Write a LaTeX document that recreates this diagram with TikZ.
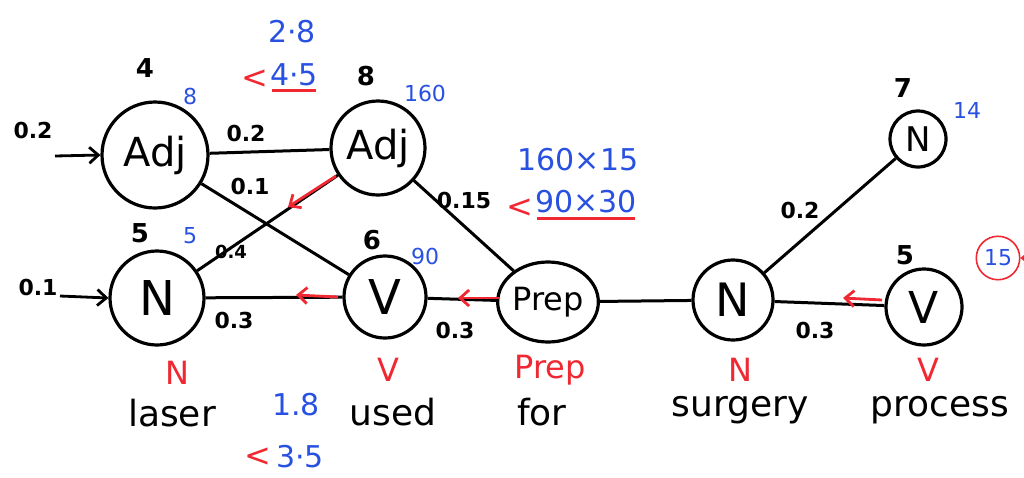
\documentclass[tikz,border=0pt]{standalone}
\usepackage{fontspec}
\setmainfont{DejaVu Sans}
\usetikzlibrary{arrows.meta,shapes.geometric}
\definecolor{hblue}{RGB}{40,80,225}
\definecolor{hred}{RGB}{240,40,50}
\tikzset{
  state/.style={draw, circle, line width=3.2pt, inner sep=0pt, font=\fontsize{40}{40}\selectfont},
  edge/.style={line width=3pt},
  lbl/.style={font=\fontsize{22}{22}\selectfont\bfseries, inner sep=1pt},
  cnt/.style={font=\fontsize{26}{26}\selectfont\bfseries, inner sep=1pt},
  bnum/.style={text=hblue, font=\fontsize{22}{22}\selectfont, inner sep=1pt},
  bnumL/.style={text=hblue, font=\fontsize{30}{30}\selectfont, inner sep=1pt},
  rtag/.style={text=hred, font=\fontsize{32}{32}\selectfont, inner sep=1pt},
  word/.style={font=\fontsize{36}{36}\selectfont, inner sep=1pt},
  rarr/.style={draw=hred, line width=2.8pt, -{Straight Barb[length=9pt,width=16pt]}},
  inarr/.style={line width=2.8pt, -{Straight Barb[length=9pt,width=16pt]}}
}
\begin{document}
\begin{tikzpicture}[x=1pt,y=-1pt]
\useasboundingbox (0,0) rectangle (1024,477);
% states
\node[state, minimum size=106pt] (adj1) at (155,155) {Adj};
\node[state, minimum size=94pt] (adj2) at (378,148) {Adj};
\node[state, minimum size=94pt, font=\fontsize{48}{48}\selectfont] (n1) at (157,298) {N};
\node[state, minimum size=82pt, font=\fontsize{48}{48}\selectfont] (v1) at (385,297) {V};
\node[state, ellipse, minimum width=100pt, minimum height=80pt, font=\fontsize{32}{32}\selectfont] (prep) at (548,302) {Prep};
\node[state, minimum size=80pt, font=\fontsize{46}{46}\selectfont] (n2) at (733,300) {N};
\node[state, minimum size=56pt, font=\fontsize{34}{34}\selectfont] (n3) at (918,139) {N};
\node[state, minimum size=76pt, font=\fontsize{44}{44}\selectfont] (v2) at (924,307) {V};
% incoming arrows
\coordinate (in1) at (55,156);
\coordinate (in2) at (60,296);
\draw[inarr] (in1) -- (adj1.west);
\draw[inarr] (in2) -- (n1.west);
\node[lbl] (l02a) at (33,130) {0.2};
\node[lbl] (l01a) at (38,287) {0.1};
% edges
\draw[edge] (adj1) -- (adj2);
\draw[edge] (adj1) -- (v1);
\draw[edge] (adj2) -- (n1);
\draw[edge] (adj2) -- (prep);
\draw[edge] (n1) -- (v1);
\draw[edge] (v1) -- (prep);
\draw[edge] (prep) -- (n2);
\draw[edge] (n2) -- (n3);
\draw[edge] (n2) -- (v2);
% edge labels
\node[lbl] (e1) at (246,133) {0.2};
\node[lbl] (e2) at (250,186) {0.1};
\node[lbl] (e3) at (464,200) {0.15};
\node[lbl, font=\fontsize{18}{18}\selectfont\bfseries] (e4) at (231,252) {0.4};
\node[lbl] (e5) at (234,320) {0.3};
\node[lbl] (e6) at (455,330) {0.3};
\node[lbl] (e7) at (800,210) {0.2};
\node[lbl] (e8) at (815,330) {0.3};
% state counts
\node[cnt] (c1) at (145,68) {4};
\node[bnum] (b1) at (190,96) {8};
\node[cnt] (c2) at (366,76) {8};
\node[bnum] (b2) at (425,93) {160};
\node[cnt] (c3) at (140,233) {5};
\node[bnum] (b3) at (190,236) {5};
\node[cnt] (c4) at (372,240) {6};
\node[bnum] (b4) at (425,256) {90};
\node[cnt] (c5) at (903,88) {7};
\node[bnum] (b5) at (967,110) {14};
\node[cnt] (c6) at (905,255) {5};
\node[bnum, draw=hred, circle, line width=1.6pt, inner sep=4pt] (b6) at (998,258) {15};
\coordinate (r6) at (1024,258);
\draw[rarr, line width=1.6pt] (r6) -- (b6.east);
% comparisons
\node[bnumL] (k1) at (292,32) {2·8};
\node[rtag] (k1lt) at (255,79) {<};
\node[bnumL] (k1b) at (294,75) {4·5};
\draw[hred, line width=2.4pt] ([shift={(3,3)}]k1b.south west) -- ([shift={(-3,3)}]k1b.south east);
\node[bnumL] (k2) at (578,160) {160×15};
\node[rtag] (k2lt) at (520,208) {<};
\node[bnumL] (k2b) at (586,202) {90×30};
\draw[hred, line width=2.4pt] ([shift={(3,4)}]k2b.south west) -- ([shift={(-3,4)}]k2b.south east);
\node[bnumL] (k3) at (296,405) {1.8};
\node[rtag] (k3lt) at (258,457) {<};
\node[bnumL] (k3b) at (300,457) {3·5};
% backpointer arrows
\coordinate (ra1s) at (336,176);
\coordinate (ra1e) at (288,207);
\draw[rarr] (ra1s) -- (ra1e);
\coordinate (ra2s) at (338,297);
\coordinate (ra2e) at (296,295);
\draw[rarr] (ra2s) -- (ra2e);
\coordinate (ra3s) at (500,298);
\coordinate (ra3e) at (458,298);
\draw[rarr] (ra3s) -- (ra3e);
\coordinate (ra4s) at (882,300);
\coordinate (ra4e) at (843,298);
\draw[rarr] (ra4s) -- (ra4e);
% tags
\node[rtag] (t1) at (177,373) {N};
\node[rtag] (t2) at (388,370) {V};
\node[rtag] (t3) at (550,370) {Prep};
\node[rtag] (t4) at (740,370) {N};
\node[rtag] (t5) at (928,370) {V};
% words
\node[word] (w1) at (172,413) {laser};
\node[word] (w2) at (393,412) {used};
\node[word] (w3) at (542,412) {for};
\node[word] (w4) at (740,410) {surgery};
\node[word] (w5) at (940,410) {process};
\end{tikzpicture}
\end{document}
